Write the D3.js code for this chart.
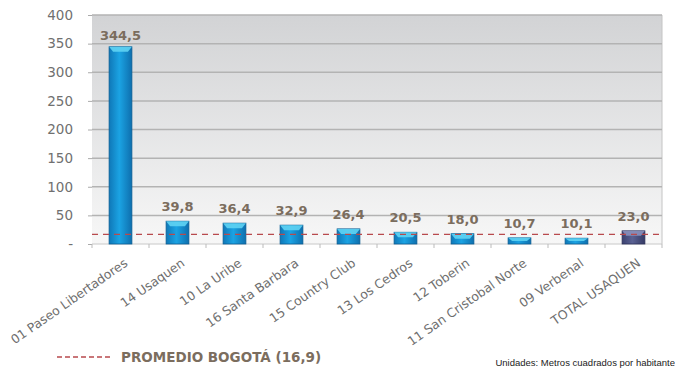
<!DOCTYPE html>
<html><head><meta charset="utf-8">
<script src="https://cdn.jsdelivr.net/npm/d3@7"></script>
<style>body{margin:0;background:#fff}svg{display:block}</style>
</head><body>
<svg id="c" width="675" height="369"></svg>
<script>
const categories = ["01 Paseo Libertadores","14 Usaquen","10 La Uribe","16 Santa Barbara","15 Country Club","13 Los Cedros","12 Toberin","11 San Cristobal Norte","09 Verbenal","TOTAL USAQUEN"];
const values = [344.5,39.8,36.4,32.9,26.4,20.5,18.0,10.7,10.1,23.0];
const valueLabels = ["344,5","39,8","36,4","32,9","26,4","20,5","18,0","10,7","10,1","23,0"];
const yTicks = [0,50,100,150,200,250,300,350,400];
const yTickLabels = ["-","50","100","150","200","250","300","350","400"];
const average = 16.9;
const legendLabel = "PROMEDIO BOGOTÁ (16,9)";
const unitsNote = "Unidades: Metros cuadrados por habitante";

const svg = d3.select("#c");
const m = {l:92, r:13, t:15, b:125};
const W = 675, H = 369;
const x = d3.scaleBand().domain(categories).range([m.l, W-m.r]).paddingInner(0.6).paddingOuter(0.3);
const xb = d3.scaleBand().domain(categories).range([m.l, W-m.r]);
const y = d3.scaleLinear().domain([0,400]).range([H-m.b, m.t]);

const defs = svg.append("defs");
const bg = defs.append("linearGradient").attr("id","bg").attr("x1",0).attr("y1",0).attr("x2",0).attr("y2",1);
bg.append("stop").attr("offset","0").attr("stop-color","#d2d3d5");
bg.append("stop").attr("offset","1").attr("stop-color","#f7f7f7");
function barGrad(id, c1, c2, c3){
  const g = defs.append("linearGradient").attr("id",id).attr("x1",0).attr("y1",0).attr("x2",1).attr("y2",0);
  g.append("stop").attr("offset","0").attr("stop-color",c1);
  g.append("stop").attr("offset","0.45").attr("stop-color",c2);
  g.append("stop").attr("offset","1").attr("stop-color",c3);
}
barGrad("gb","#0f78b8","#1ba3e3","#0e6fae");
barGrad("gt","#3c4270","#5a6193","#353a64");

// plot background
svg.append("rect").attr("x",m.l).attr("y",y(400)).attr("width",W-m.r-m.l).attr("height",y(0)-y(400)).attr("fill","url(#bg)");
svg.append("line").attr("x1",W-m.r).attr("x2",W-m.r).attr("y1",y(400)).attr("y2",y(0)).attr("stroke","#c4c4c4");

// gridlines
svg.append("g").selectAll("line").data(yTicks.filter(d=>d>0)).join("line")
  .attr("x1",m.l).attr("x2",W-m.r).attr("y1",d=>y(d)).attr("y2",d=>y(d))
  .attr("stroke","#b3b3b3").attr("stroke-width",1.5);

// y axis
const ya = d3.axisLeft(y).tickValues(yTicks).tickFormat((d,i)=>yTickLabels[i]).tickSize(4).tickPadding(15);
const yg = svg.append("g").attr("transform",`translate(${m.l},0)`).call(ya);
yg.select(".domain").remove();
yg.selectAll("line").attr("stroke","#aaa");
yg.selectAll("text").attr("fill","#707070").style("font-family","Verdana, 'DejaVu Sans', sans-serif").style("font-size","13.5px");

// x axis baseline and ticks
svg.append("line").attr("x1",m.l).attr("x2",W-m.r).attr("y1",y(0)).attr("y2",y(0)).attr("stroke","#c8c8c8");
svg.append("g").selectAll("line").data(categories.concat([null])).join("line")
  .attr("x1",(d,i)=>m.l+i*xb.bandwidth()).attr("x2",(d,i)=>m.l+i*xb.bandwidth())
  .attr("y1",y(0)).attr("y2",y(0)+4).attr("stroke","#bbb");

// bars
const bars = svg.append("g").selectAll("g").data(values).join("g");
bars.append("rect")
  .attr("x",(d,i)=>x(categories[i])).attr("y",d=>y(d)).attr("width",x.bandwidth()).attr("height",d=>y(0)-y(d))
  .attr("fill",(d,i)=>i===categories.length-1?"url(#gt)":"url(#gb)")
  .attr("stroke",(d,i)=>i===categories.length-1?"#2c3058":"#0b5e94").attr("stroke-width",0.8);
// bevel top
bars.append("path")
  .attr("d",(d,i)=>{const x0=x(categories[i]), w=x.bandwidth(), t=y(d), h=Math.min(5,(y(0)-y(d))/2);
    return `M${x0},${t}L${x0+w},${t}L${x0+w-4},${t+h}L${x0+4},${t+h}Z`;})
  .attr("fill",(d,i)=>i===categories.length-1?"#8a90bb":"#5fd3f3").attr("opacity",0.9);

// average line
svg.append("line").attr("x1",m.l).attr("x2",W-m.r).attr("y1",y(average)).attr("y2",y(average))
  .attr("stroke","#b84a4d").attr("stroke-width",1.3).attr("stroke-dasharray","6,5");

// value labels
svg.append("g").selectAll("text").data(values).join("text")
  .attr("x",(d,i)=>xb(categories[i])+xb.bandwidth()/2)
  .attr("y",(d,i)=>i===0?y(d)-7:y(d)-10)
  .attr("text-anchor","middle").attr("fill","#7b6d5e")
  .style("font-family","Verdana, 'DejaVu Sans', sans-serif").style("font-weight","bold").style("font-size","13px")
  .text((d,i)=>valueLabels[i]);

// x labels
svg.append("g").selectAll("text").data(categories).join("text")
  .attr("transform",d=>`translate(${xb(d)+xb.bandwidth()/2+8},${y(0)+21}) rotate(-35)`)
  .attr("text-anchor","end").attr("fill","#6e6e6e")
  .style("font-family","Verdana, 'DejaVu Sans', sans-serif").style("font-size","12.5px")
  .text(d=>d);

// legend
svg.append("line").attr("x1",57).attr("x2",110).attr("y1",357).attr("y2",357)
  .attr("stroke","#b84a4d").attr("stroke-width",1.5).attr("stroke-dasharray","5,3");
svg.append("text").attr("x",121).attr("y",362).attr("fill","#7b6d5e")
  .style("font-family","Verdana, 'DejaVu Sans', sans-serif").style("font-weight","bold").style("font-size","13.5px")
  .text(legendLabel);
svg.append("text").attr("x",675).attr("y",366).attr("text-anchor","end").attr("fill","#222")
  .style("font-family","'Liberation Sans Narrow', Arial, sans-serif").style("font-size","9.5px")
  .text(unitsNote);
</script>
</body></html>
